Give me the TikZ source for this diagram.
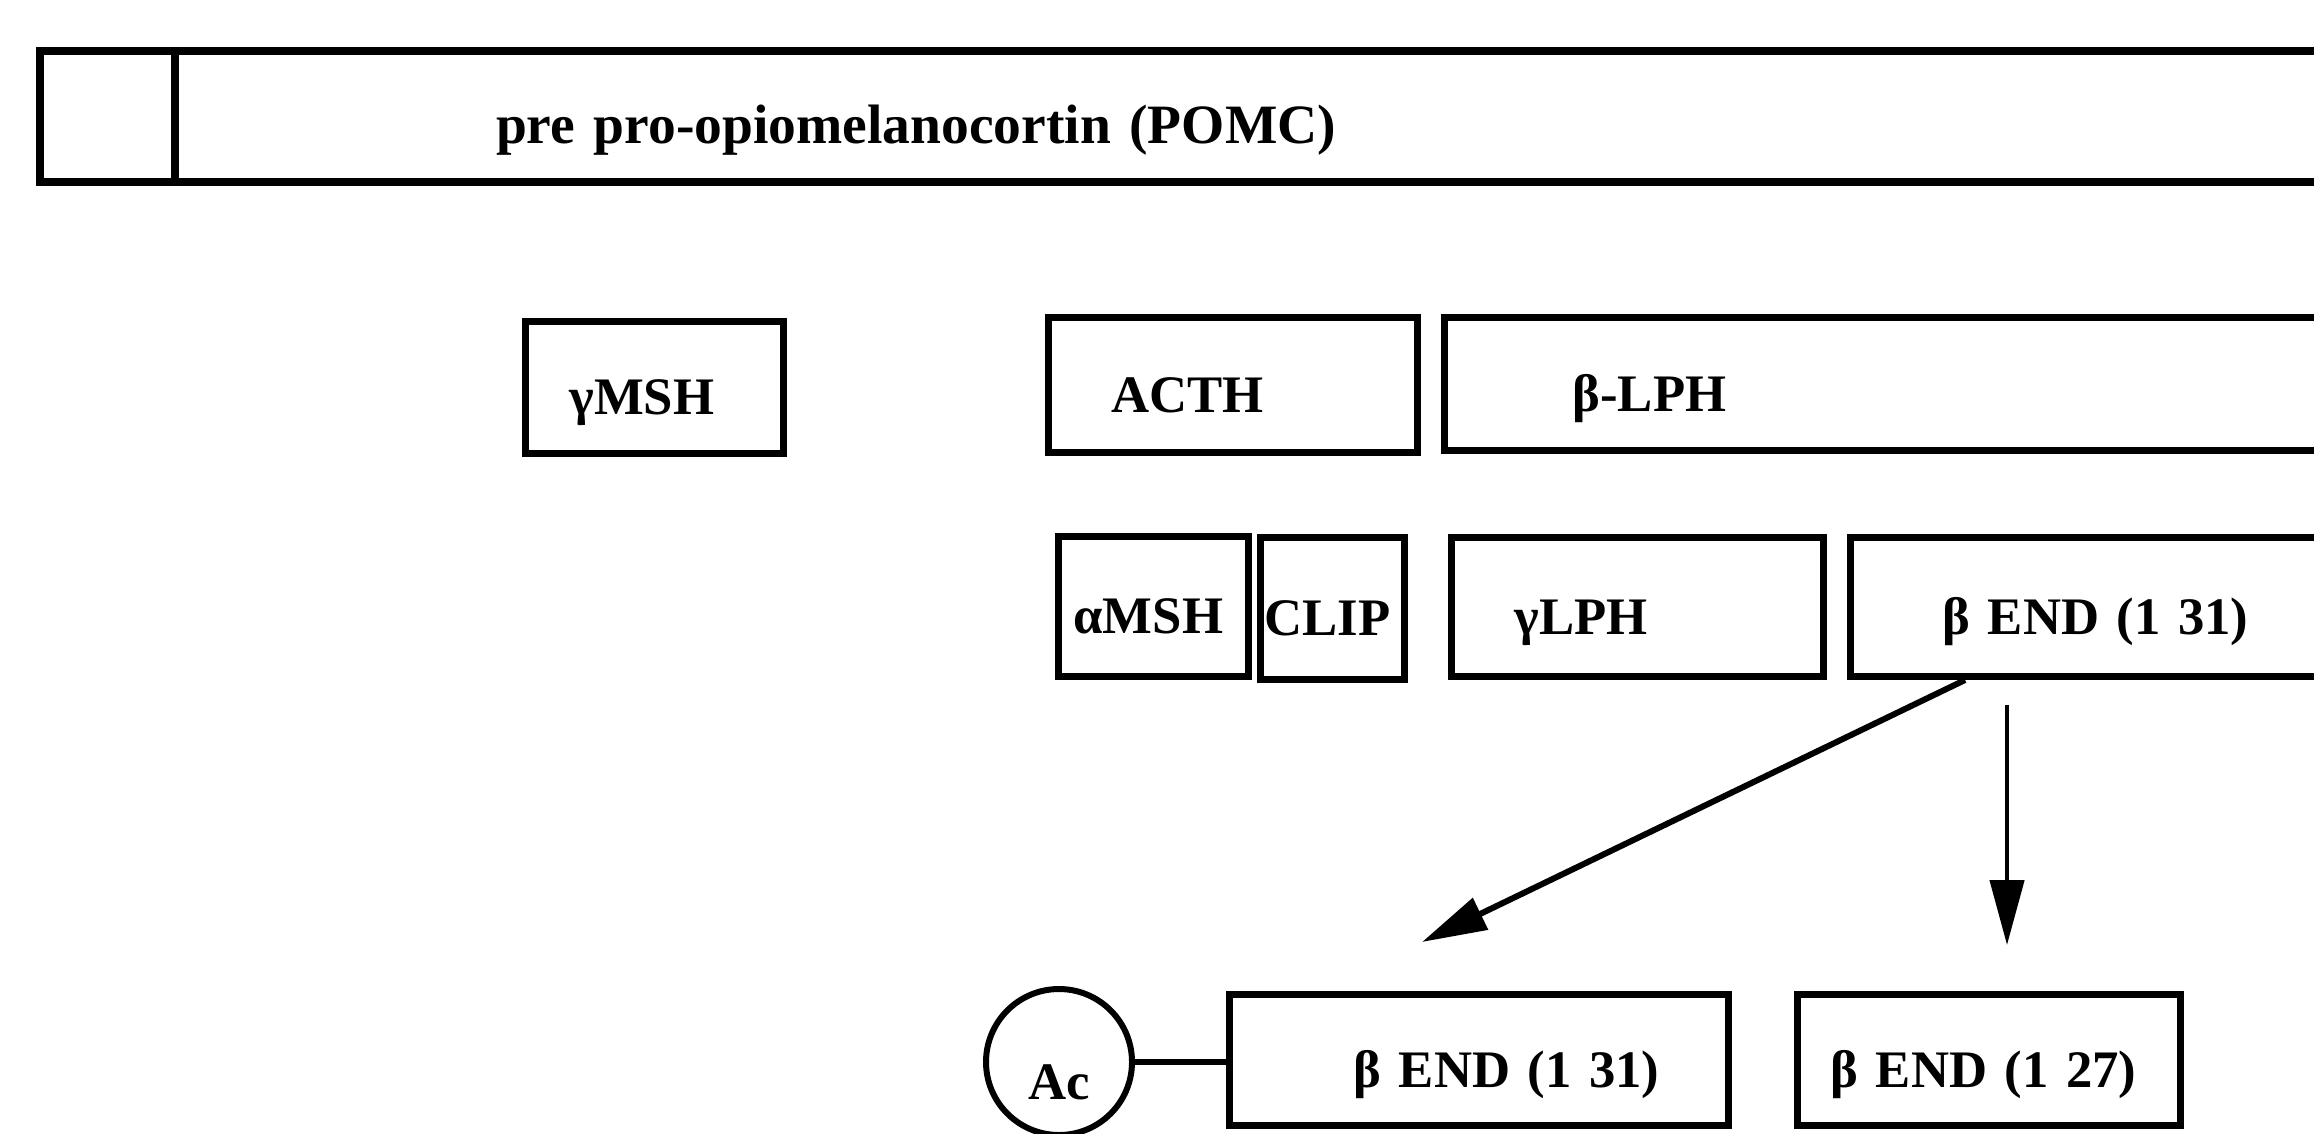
\documentclass[tikz,border=0pt]{standalone}
\usepackage{fontspec}
\setmainfont{Liberation Serif}
\usetikzlibrary{positioning, arrows.meta, calc}

\begin{document}
\begin{tikzpicture}[
      x=0.1mm, y=-0.1mm,
      every node/.style={font=\fontsize{15}{18}\selectfont\bfseries},
      seg/.style={draw, line width=0.7mm, anchor=north west, align=left,
        inner ysep=0pt, text height=5.4mm, text depth=0mm},
      acetyl/.style={draw, circle, line width=0.6mm, minimum size=14.6mm,
        inner sep=0pt, text height=7.5mm, text depth=0mm},
      >={Triangle[length=6.5mm, width=3.4mm]},
    ]
    \useasboundingbox (0,0) rectangle (2314,1133);
    \clip (0,0) rectangle (2314,1133);

    % precursor
    \node[seg, line width=0.8mm, minimum width=13.5mm, minimum height=13.1mm] (sig) at (36,47) {};
    \node[seg, line width=0.8mm, minimum width=222mm, minimum height=13.1mm,
      inner xsep=32.1mm, text width=157.8mm,
      font=\fontsize{15.8}{19}\selectfont\bfseries] (pomc) at (171,47) {pre pro-opiomelanocortin (POMC)};

    % first cleavage
    \node[seg, minimum width=25.8mm, minimum height=13.2mm, inner xsep=4.4mm, text width=17mm] (ymsh) at (522,318) {γMSH};
    \node[seg, minimum width=36.9mm, minimum height=13.5mm, inner xsep=6.3mm, text width=24.3mm] (acth) at (1045,314) {ACTH};
    \node[seg, minimum width=100mm, minimum height=13.3mm, inner xsep=12.8mm, text width=74.4mm] (blph) at (1441,314) {β-LPH};

    % second cleavage
    \node[seg, minimum width=19mm, minimum height=14mm, inner xsep=1.5mm, text width=16mm] (amsh) at (1055,533) {αMSH};
    \node[seg, minimum width=14.4mm, minimum height=14.2mm, inner xsep=0.4mm, text width=13.6mm] (clip) at (1257,534) {CLIP};
    \node[seg, minimum width=37.2mm, minimum height=13.9mm, inner xsep=6.3mm, text width=24.6mm] (ylph) at (1448,534) {γLPH};
    \node[seg, minimum width=60mm, minimum height=13.9mm, inner xsep=9.2mm, text width=41.6mm] (bend) at (1847,534) {β END (1 31)};

    % endorphin forms
    \node[seg, minimum width=49.9mm, minimum height=13.1mm, inner xsep=6.9mm, text width=36.1mm, align=right] (bendac) at (1226,991) {β END (1 31)};
    \node[seg, minimum width=38.3mm, minimum height=13.1mm, inner xsep=3.3mm, text width=31.7mm] (bendshort) at (1794,991) {β END (1 27)};
    \node[acetyl] (ac) at (1059,1062) {Ac};

    \coordinate (tipa) at (1422,942);
    \coordinate (tipb) at (2007,945);

    \draw[->, line width=0.6mm] ($(bend.south west)+(118,0)$) -- (tipa);
    \draw[->, line width=0.45mm] ($(bend.south west)+(160,25)$) -- (tipb);
    \draw[line width=0.55mm] (ac.east) -- (ac.east -| bendac.west);
  \end{tikzpicture}
\end{document}
